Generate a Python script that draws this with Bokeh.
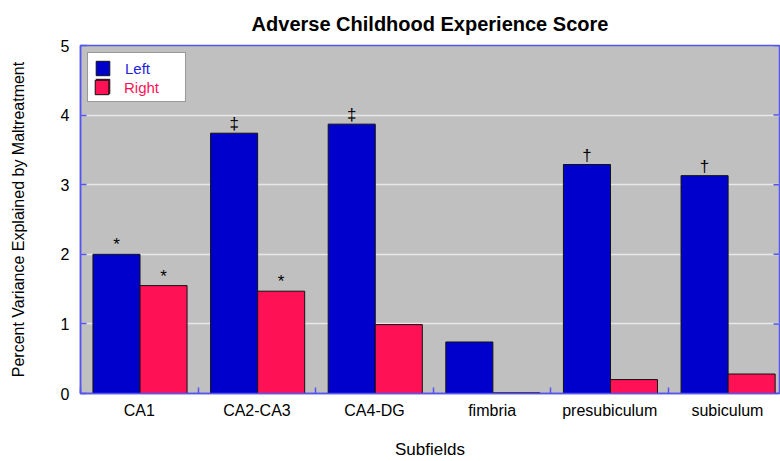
import numpy as np
from bokeh.plotting import figure
from bokeh.models import Range1d, FixedTicker, LinearAxis, Legend, LegendItem, ColumnDataSource, Grid
from bokeh.embed import file_html
from bokeh.resources import INLINE

categories = ["CA1", "CA2-CA3", "CA4-DG", "fimbria", "presubiculum", "subiculum"]
left_vals = [2.00, 3.74, 3.87, 0.74, 3.29, 3.13]
right_vals = [1.55, 1.47, 0.99, 0.01, 0.20, 0.28]
left_marks = ["*", "\u2021", "\u2021", "", "\u2020", "\u2020"]
right_marks = ["*", "*", "", "", "", ""]
y_ticks = [0, 1, 2, 3, 4, 5]

FONT = "Liberation Sans"
BLUE = "#0000cc"
RED = "#ff1155"
AXC = "#5555ee"

idx = np.arange(len(categories))
centers = idx + 0.5
bounds = list(np.arange(0, len(categories) + 1).astype(float))

src_l = ColumnDataSource(dict(x=idx + 0.306, top=left_vals))
src_r = ColumnDataSource(dict(x=idx + 0.706, top=right_vals))


def mark_source(xs, tops, marks):
    keep = [i for i, m in enumerate(marks) if m]
    return ColumnDataSource(dict(x=[xs[i] for i in keep], y=[tops[i] for i in keep],
                                 mark=[marks[i] for i in keep]))


xr = Range1d(0, 5.943)
p = figure(width=780, height=461, x_range=xr, y_range=Range1d(0, 5),
           output_backend="svg", toolbar_location=None,
           min_border_left=80, min_border_right=1, min_border_top=45, min_border_bottom=68,
           background_fill_color="#c0c0c0", border_fill_color="white",
           title="Adverse Childhood Experience Score", x_axis_type=None, y_axis_type=None)
p.title.align = "center"
p.title.text_font = FONT
p.title.text_font_size = "20px"
p.title.text_font_style = "bold"
p.title.text_color = "black"
p.title.standoff = 21
p.outline_line_color = AXC
p.outline_line_width = 1.5

# x axis
xax = LinearAxis(ticker=FixedTicker(ticks=list(centers), minor_ticks=bounds))
xax.major_label_overrides = {float(c): n for c, n in zip(centers, categories)}
xax.major_tick_line_color = None
xax.minor_tick_in = 6
xax.minor_tick_out = 0
xax.minor_tick_line_color = AXC
xax.minor_tick_line_width = 1.5
xax.axis_line_color = AXC
xax.axis_line_width = 1.5
xax.major_label_text_font = FONT
xax.major_label_text_font_size = "16px"
xax.major_label_text_color = "black"
xax.major_label_standoff = 2
xax.axis_label = "Subfields"
xax.axis_label_text_font = FONT
xax.axis_label_text_font_size = "17px"
xax.axis_label_text_font_style = "normal"
xax.axis_label_text_color = "black"
xax.axis_label_standoff = 18
p.add_layout(xax, "below")

# y axis
yax = LinearAxis(ticker=FixedTicker(ticks=y_ticks))
yax.major_tick_in = 6
yax.major_tick_out = 0
yax.major_tick_line_color = AXC
yax.major_tick_line_width = 1.5
yax.minor_tick_line_color = None
yax.axis_line_color = AXC
yax.axis_line_width = 1.5
yax.major_label_text_font = FONT
yax.major_label_text_font_size = "16px"
yax.major_label_text_color = "black"
yax.major_label_standoff = 11
yax.axis_label = "Percent Variance Explained by Maltreatment"
yax.axis_label_text_font = FONT
yax.axis_label_text_font_size = "16px"
yax.axis_label_text_font_style = "normal"
yax.axis_label_text_color = "black"
yax.axis_label_standoff = 31
p.add_layout(yax, "left")

p.add_layout(Grid(dimension=1, ticker=FixedTicker(ticks=y_ticks), grid_line_color="#e8e8e8",
                  grid_line_width=1.5))

# inward ticks on the right edge of the frame
p.ray(x=[xr.end] * len(y_ticks), y=y_ticks, length=6, length_units="screen", angle=np.pi,
      line_color=AXC, line_width=1.5)

rl = p.vbar(x="x", top="top", width=0.4, source=src_l, fill_color=BLUE, line_color="#111111", line_width=1)
rr = p.vbar(x="x", top="top", width=0.4, source=src_r, fill_color=RED, line_color="#111111", line_width=1)

for s in (mark_source(list(idx + 0.306), left_vals, left_marks),
          mark_source(list(idx + 0.706), right_vals, right_marks)):
    p.text(x="x", y="y", text="mark", source=s, text_align="center", text_baseline="bottom",
           y_offset=0, text_font_size="17px", text_color="black")

leg1 = Legend(items=[LegendItem(label="Left", renderers=[rl]), LegendItem(label=" ", renderers=[rr])],
              location=(7, 291), padding=6, spacing=-1, glyph_width=17, glyph_height=18,
              label_height=17, label_width=54, label_standoff=14, label_text_font=FONT,
              label_text_font_size="15px", label_text_color="#2222dd",
              background_fill_color="white", background_fill_alpha=1,
              border_line_color="#333333", border_line_width=1.5)
p.add_layout(leg1, "center")
leg2 = Legend(items=[LegendItem(label="Right", renderers=[rr])],
              location=(13, 297), padding=0, spacing=-1, glyph_width=17, glyph_height=18,
              label_height=17, label_width=54, label_standoff=14, label_text_font=FONT,
              label_text_font_size="15px", label_text_color=RED,
              background_fill_alpha=0, border_line_color=None)
p.add_layout(leg2, "center")

open("out.html", "w").write(file_html(p, INLINE))
